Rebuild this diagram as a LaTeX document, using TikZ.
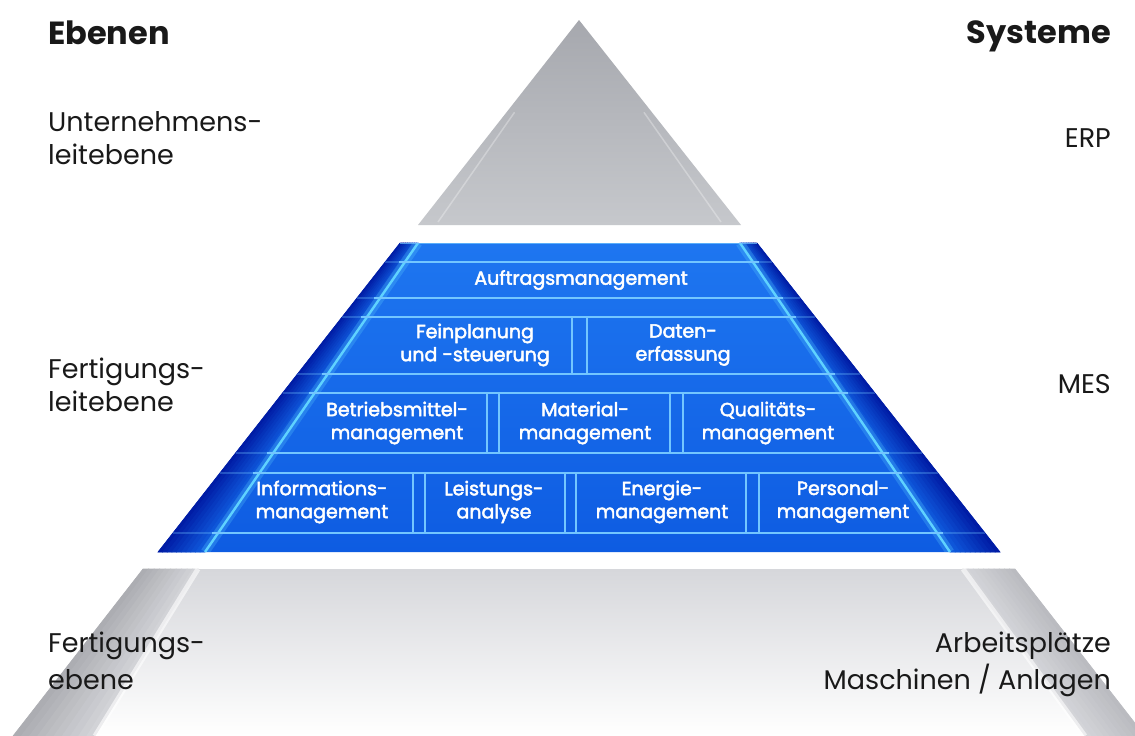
\documentclass[tikz,border=0pt]{standalone}
\usepackage{fontspec}
\setmainfont{Poppins}
\newfontfamily\boxfont[FakeBold=2.5]{Poppins}
\usetikzlibrary{calc}
\definecolor{txt}{RGB}{25,25,25}
\definecolor{gtop}{RGB}{166,168,174}
\definecolor{gbot}{RGB}{198,200,204}
\definecolor{bluedark}{RGB}{0,28,165}
\definecolor{bluemid}{RGB}{18,100,230}
\definecolor{bluetop}{RGB}{30,118,240}
\definecolor{bluebot}{RGB}{14,92,226}
\definecolor{stripe}{RGB}{95,210,255}
\definecolor{lineblue}{RGB}{115,198,255}
\definecolor{gedge}{RGB}{172,173,178}
\definecolor{gin}{RGB}{214,215,219}
\definecolor{gredge}{RGB}{186,187,192}
\begin{document}
\begin{tikzpicture}[x=1pt,y=-1pt,
  lbl/.style={font=\fontsize{27}{33}\selectfont, text=txt, inner sep=0pt, align=left},
  lblb/.style={font=\fontsize{27}{37}\selectfont, text=txt, inner sep=0pt, align=left},
  hdr/.style={font=\fontsize{32}{36}\selectfont\bfseries, text=txt, inner sep=0pt},
  boxtxt/.style={font=\boxfont\fontsize{19}{23}\selectfont, text=white, align=center, inner sep=0pt},
  hline/.style={draw=lineblue, line width=1.5pt},
  vline/.style={draw=lineblue, line width=1.5pt, line cap=rect}]
\useasboundingbox (0,0) rectangle (1135,736);
\fill[white] (0,0) rectangle (1135,736);

% ---------- top triangle ----------
\coordinate (T) at (579,20);
\coordinate (TL) at (418,225);
\coordinate (TR) at (741,225);
\shade[top color=gtop, bottom color=gbot] (T) -- (TL) -- (TR) -- cycle;
\draw[white, opacity=.3, line width=1.5pt] ($(T)!.45!(TL)+(8,0)$) -- ($(TL)+(20,-3)$);
\draw[white, opacity=.3, line width=1.5pt] ($(T)!.45!(TR)+(-8,0)$) -- ($(TR)+(-20,-3)$);

% ---------- blue trapezoid ----------
\coordinate (BTL) at (400,243);
\coordinate (BTR) at (757,243);
\coordinate (BBR) at (1000,552);
\coordinate (BBL) at (158,552);
\coordinate (SLT) at (418,243);
\coordinate (SLB) at (205,552);
\coordinate (SRT) at (740,243);
\coordinate (SRB) at (950,552);
\shade[top color=bluetop, bottom color=bluebot] (BTL) -- (BTR) -- (BBR) -- (BBL) -- cycle;
\foreach \i in {0,...,9}{
  \pgfmathsetmacro\a{\i/10}
  \pgfmathsetmacro\b{(\i+1)/10}
  \pgfmathtruncatemacro\pc{100-\i*10}
  \fill[bluedark!\pc!bluemid, draw=bluedark!\pc!bluemid, line width=.6pt]
    ($(BTL)!\a!(SLT)$) -- ($(BTL)!\b!(SLT)$) -- ($(BBL)!\b!(SLB)$) -- ($(BBL)!\a!(SLB)$) -- cycle;
  \fill[bluedark!\pc!bluemid, draw=bluedark!\pc!bluemid, line width=.6pt]
    ($(BTR)!\a!(SRT)$) -- ($(BTR)!\b!(SRT)$) -- ($(BBR)!\b!(SRB)$) -- ($(BBR)!\a!(SRB)$) -- cycle;
}
\begin{scope}
  \clip (BTL) -- (BTR) -- (BBR) -- (BBL) -- cycle;
  \draw[stripe, line width=9pt, opacity=.25] (SLT) -- (SLB);
  \draw[stripe, line width=9pt, opacity=.25] (SRT) -- (SRB);
  \draw[stripe, line width=2.4pt] (SLT) -- (SLB);
  \draw[stripe, line width=2.4pt] (SRT) -- (SRB);
  \draw[lineblue, line width=1pt, opacity=.7] (BTL) -- (BTR);
  \foreach \yy in {262,298,317,374,393,453,473,533}{
    \pgfmathsetmacro\f{(\yy-243)/309}
    \draw[hline, opacity=.3] ($(BTL)!\f!(BBL)$) -- ($(BTR)!\f!(BBR)$);
    \draw[hline] ($(SLT)!\f!(SLB)+(-6,0)$) -- ($(SRT)!\f!(SRB)+(6,0)$);
  }
\end{scope}
% vertical box edges
\foreach \xx in {572,587}{\draw[vline] (\xx,317) -- (\xx,374);}
\foreach \xx in {487,499,670,683}{\draw[vline] (\xx,393) -- (\xx,453);}
\foreach \xx in {413,425,565,576,746,759}{\draw[vline] (\xx,473) -- (\xx,533);}

% box texts
\node[boxtxt] (auftrag) at (581,280) {Auftragsmanagement};
\node[boxtxt] (fein) at (475,345) {Feinplanung\\und -steuerung};
\node[boxtxt] (daten) at (683,345) {Daten-\\erfassung};
\node[boxtxt] (betr) at (397,423) {Betriebsmittel-\\management};
\node[boxtxt] (mat) at (585,423) {Material-\\management};
\node[boxtxt] (qual) at (768,423) {Qualitäts-\\management};
\node[boxtxt] (info) at (322,502) {Informations-\\management};
\node[boxtxt] (leist) at (494,502) {Leistungs-\\analyse};
\node[boxtxt] (energ) at (662,502) {Energie-\\management};
\node[boxtxt] (pers) at (843,502) {Personal-\\management};

% ---------- bottom grey trapezoid ----------
\coordinate (GTL) at (143,569);
\coordinate (GTR) at (1015,569);
\coordinate (GBR) at (1145,736);
\coordinate (GBL) at (13,736);
\coordinate (GSLT) at (198,569);
\coordinate (GSLB) at (95,736);
\coordinate (GSRT) at (963,569);
\coordinate (GSRB) at (1085,736);
\shade[top color=gin, bottom color=white] (GTL) -- (GTR) -- (GBR) -- (GBL) -- cycle;
\foreach \i in {0,...,9}{
  \pgfmathsetmacro\a{\i/10}
  \pgfmathsetmacro\b{(\i+1)/10}
  \pgfmathtruncatemacro\pc{100-\i*10}
  \fill[gedge!\pc!gin, draw=gedge!\pc!gin, line width=.6pt]
    ($(GTL)!\a!(GSLT)$) -- ($(GTL)!\b!(GSLT)$) -- ($(GBL)!\b!(GSLB)$) -- ($(GBL)!\a!(GSLB)$) -- cycle;
  \fill[gredge!\pc!gin, draw=gredge!\pc!gin, line width=.6pt]
    ($(GTR)!\a!(GSRT)$) -- ($(GTR)!\b!(GSRT)$) -- ($(GBR)!\b!(GSRB)$) -- ($(GBR)!\a!(GSRB)$) -- cycle;
}
\draw[white, line width=5pt, opacity=.6] (GSLT) -- (GSLB);
\draw[white, line width=5pt, opacity=.6] (GSRT) -- (GSRB);

% ---------- labels ----------
\node[hdr, anchor=base west] (ebenen) at (48,44) {Ebenen};
\node[hdr, anchor=base east] (systeme) at (1111,43) {Systeme};
\node[lbl, anchor=base west] (unt) at (48,164) {Unternehmens-\\leitebene};
\node[lbl, anchor=base east] (erp) at (1111,147) {ERP};
\node[lbl, anchor=base west] (ferl) at (48,411) {Fertigungs-\\leitebene};
\node[lbl, anchor=base east] (mes) at (1111,393) {MES};
\node[lblb, anchor=base west] (fere) at (48,689) {Fertigungs-\\ebene};
\node[lblb, anchor=base east, align=right] (arb) at (1111,689) {Arbeitsplätze\\Maschinen / Anlagen};
\end{tikzpicture}
\end{document}
